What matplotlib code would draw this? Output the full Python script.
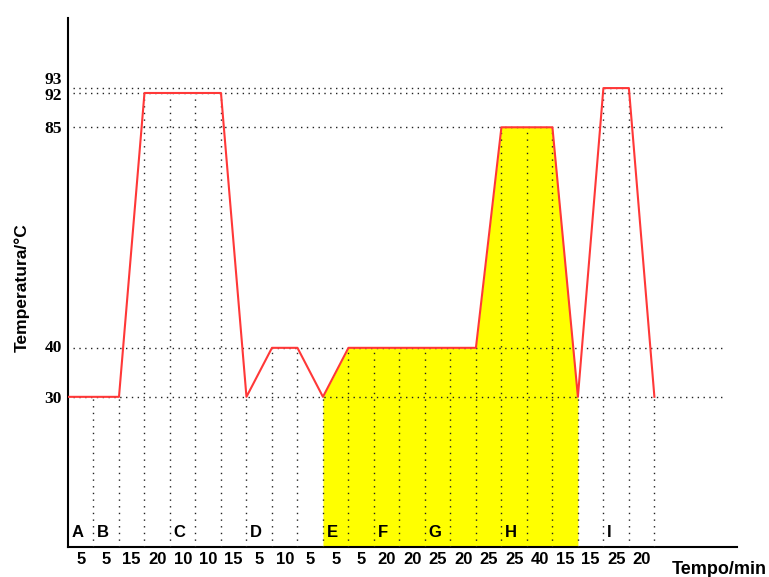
import matplotlib
matplotlib.use('Agg')
import matplotlib.pyplot as plt

# durations (min) of each step, one per segment on the x axis
durations = [5, 5, 15, 20, 10, 10, 15, 5, 10, 5, 5, 5, 20, 20, 25, 20, 25, 25, 40, 15, 15, 25, 20]
# temperature at each segment boundary
temps = [30, 30, 30, 92, 92, 92, 92, 30, 40, 40, 30, 40, 40, 40, 40, 40, 40, 85, 85, 85, 30, 93, 93, 30]
# stage letters and the segment where each one starts
stages = ['A', 'B', 'C', 'D', 'E', 'F', 'G', 'H', 'I']
stage_seg = [0, 1, 4, 7, 10, 12, 14, 17, 21]
# shaded part of the program (boundary indexes)
fill_start, fill_end = 10, 20
# reference temperatures shown on the y axis
ref_temps = [30, 40, 85, 92, 93]
ref_offsets = [-1.5, 0, -1, -2.5, 5.5]  # label nudges in points

xs = list(range(len(temps)))
ymin, ymax = -0.7, 107.3

fig = plt.figure(figsize=(7.69, 5.77), dpi=100)
ax = fig.add_axes([68 / 769, 29.7 / 577, (737 - 68) / 769, (547.3 - 18) / 577])
ax.set_xlim(0, 26.24)
ax.set_ylim(ymin, ymax)

dot = (0, (1, 3.2))
grid_col = '#222222'

# horizontal reference lines
for t in ref_temps:
    ax.plot([0.2, 25.8], [t, t], color=grid_col, lw=1.0, linestyle=dot, zorder=3)

# yellow area
ax.fill_between(xs[fill_start:fill_end + 1], temps[fill_start:fill_end + 1], ymin,
                color='#ffff00', lw=0, zorder=1)

# vertical dotted lines under the curve
for i in xs[1:]:
    ax.plot([i, i], [ymin, temps[i]], color=grid_col, lw=1.0, linestyle=(0, (1, 3.8)), zorder=3)

# temperature program
ax.plot(xs, temps, color='#ff3838', lw=1.5, zorder=4)

# stage letters
for s, i in zip(stages, stage_seg):
    ax.text(i + 0.14, 2.3, s, ha='left', va='center', fontsize=12,
            fontweight='bold', family='Liberation Sans', zorder=5)

# x tick labels (durations)
ax.set_xticks([i + 0.5 for i in range(len(durations))])
ax.set_xticklabels([str(d) for d in durations], fontsize=12, fontweight='bold',
                   family='Liberation Sans')
ax.tick_params(axis='x', length=0, pad=3.5)

# y labels
ax.set_yticks([])
for t, off in zip(ref_temps, ref_offsets):
    ax.annotate(str(t), xy=(0, t), xycoords=('axes fraction', 'data'),
                xytext=(-4.5, off), textcoords='offset points', ha='right', va='center',
                fontsize=12.5, fontweight='bold', family='Liberation Serif')

for side in ['top', 'right']:
    ax.spines[side].set_visible(False)
ax.spines['left'].set_linewidth(1.5)
ax.spines['bottom'].set_linewidth(1.5)

fig.text(22 / 769, 1 - 288 / 577, 'Temperatura/°C', rotation=90, ha='center', va='center',
         fontsize=12.5, fontweight='bold', family='Liberation Sans')
fig.text(767 / 769, 1 - 569 / 577, 'Tempo/min', ha='right', va='center',
         fontsize=13, fontweight='bold', family='Liberation Sans')

fig.savefig('out.png', dpi=100)
